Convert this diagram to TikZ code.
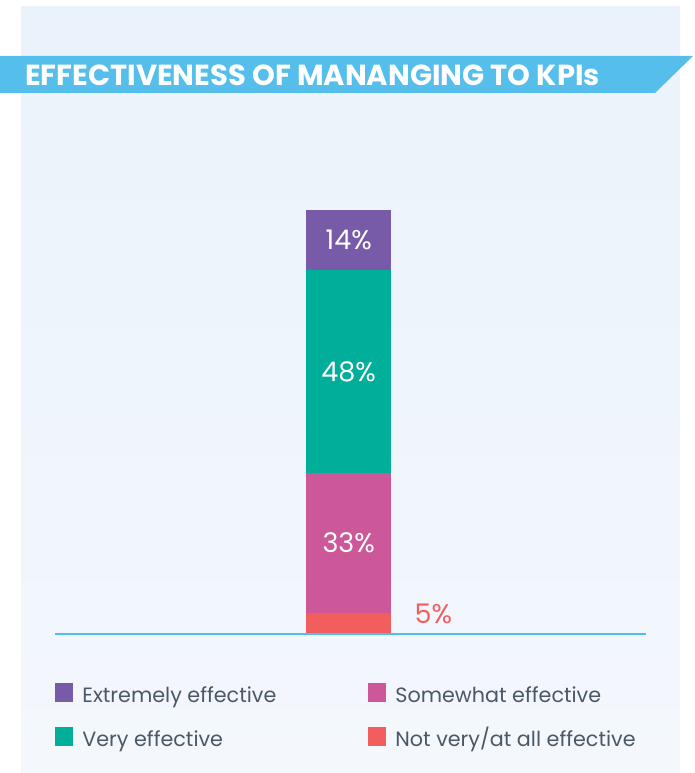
\documentclass[tikz,border=0pt]{standalone}
\usepackage{fontspec}
\setmainfont{Poppins}
\usetikzlibrary{positioning}
\definecolor{panelTop}{HTML}{EAF2FB}
\definecolor{panelBot}{HTML}{F4F8FD}
\definecolor{bannerBlue}{HTML}{56BEEB}
\definecolor{axisBlue}{HTML}{4FC0EE}
\definecolor{extPurple}{HTML}{775BA8}
\definecolor{veryTeal}{HTML}{00AE9A}
\definecolor{someePink}{HTML}{CC5799}
\definecolor{notRed}{HTML}{F25E5E}
\definecolor{legText}{HTML}{4B5866}
\begin{document}
\begin{tikzpicture}[x=1pt,y=-1pt,
  seg/.style={shape=rectangle,minimum width=85pt,inner sep=0,anchor=north west,text=white,font=\fontsize{27}{30}\selectfont},
  legsq/.style={shape=rectangle,minimum width=18pt,minimum height=19pt,inner sep=0},
  legtxt/.style={anchor=base west,inner sep=0,text=legText,font=\fontsize{20.7}{25}\selectfont}]
\useasboundingbox (0,0) rectangle (694,773);
\fill[top color=panelTop,bottom color=panelBot] (21,7) rectangle (680,772);
\fill[bannerBlue] (0,56) -- (693,56) -- (655,93) -- (0,93) -- cycle;
\node[anchor=base west,inner sep=0,text=white,font=\bfseries\fontsize{29}{32}\selectfont] (title) at (25,86) {EFFECTIVENESS OF MANANGING TO KPIs};
\foreach \n/\top/\h/\col/\lab in {1/210/60/extPurple/14\%,2/270/203/veryTeal/48\%,3/473/140/someePink/33\%,4/613/21/notRed/{}}{%
  \node[seg,fill=\col,minimum height=\h pt] (s\n) at (306,\top) {\lab};}
\node[anchor=base west,inner sep=0,text=notRed,font=\fontsize{27}{30}\selectfont] (p4) at ([xshift=23pt]s4.east) {5\%};
\coordinate (axL) at (55,634);
\coordinate (axR) at (646,634);
\draw[axisBlue,line width=1.2pt] (axL) -- (axR);
\foreach \n/\x/\y/\col/\lab in {1/64/692.5/extPurple/{Extremely effective},2/377/692.5/someePink/{Somewhat effective},3/64/736.5/veryTeal/{Very effective},4/377/736.5/notRed/{Not very/at all effective}}{%
  \node[legsq,fill=\col] (k\n) at (\x,\y) {};
  \node[legtxt] (t\n) at ([xshift=9pt]k\n.south east) {\lab};}
\end{tikzpicture}
\end{document}
